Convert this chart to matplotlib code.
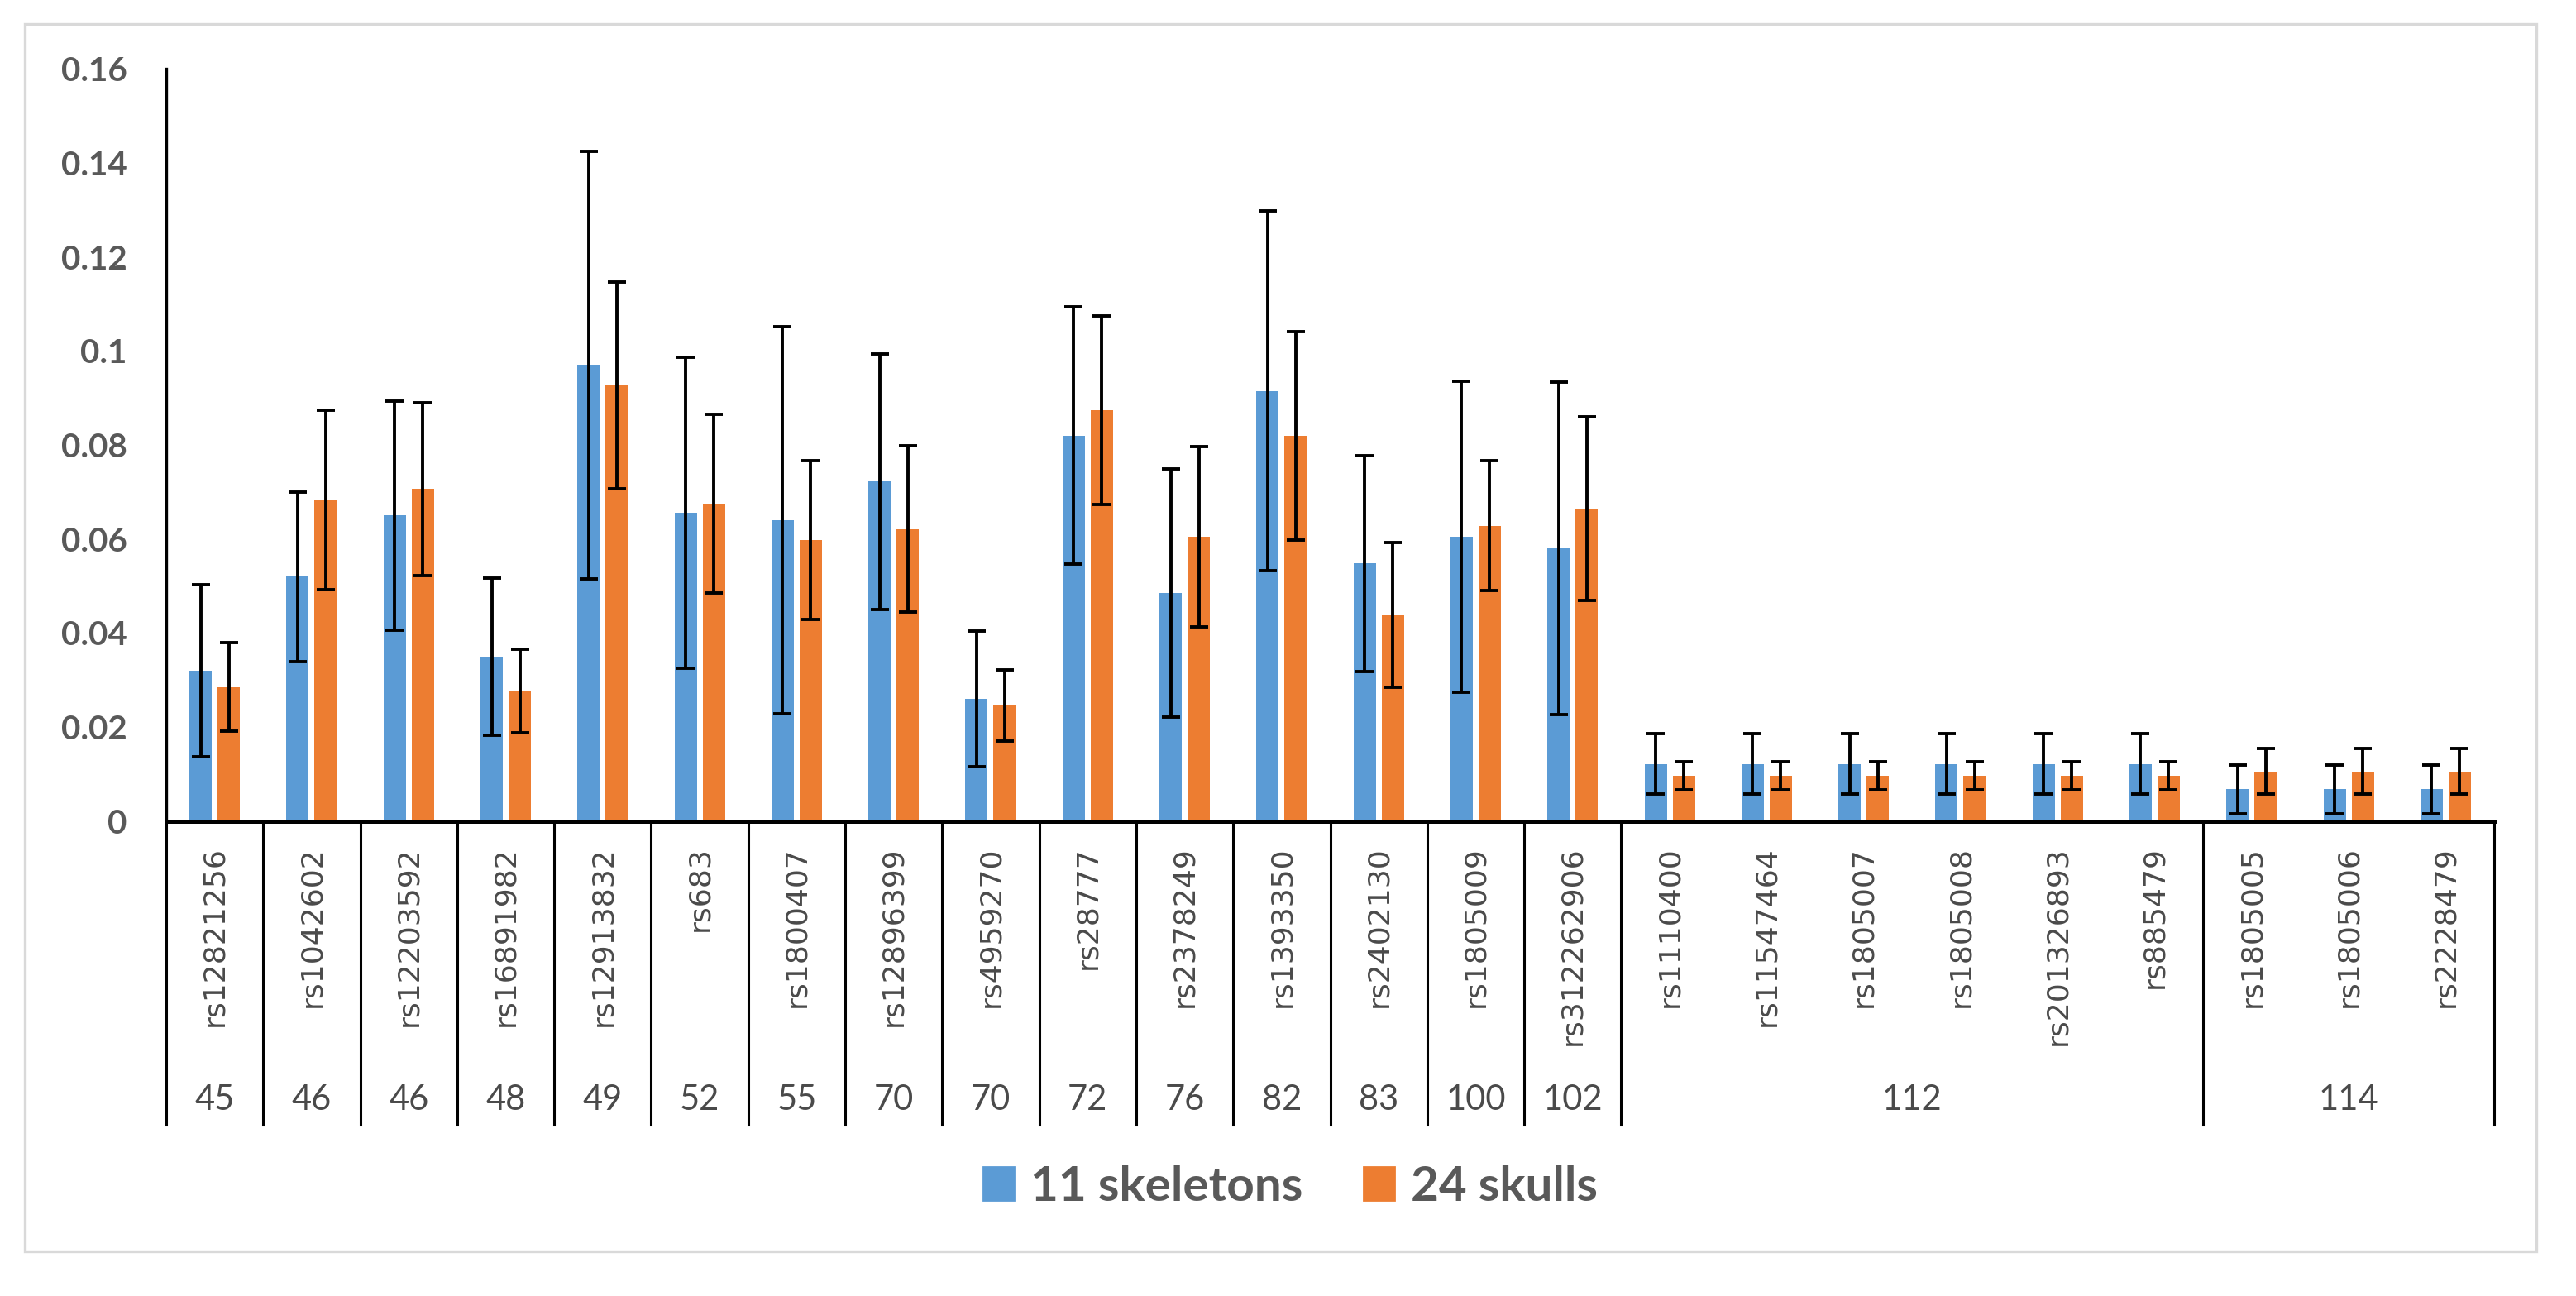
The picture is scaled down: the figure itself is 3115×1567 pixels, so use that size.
import numpy as np
import matplotlib
matplotlib.use("Agg")
import matplotlib.pyplot as plt
import matplotlib.transforms as mtransforms
from matplotlib.patches import Rectangle, Patch

snps = ["rs12821256", "rs1042602", "rs12203592", "rs16891982", "rs12913832",
        "rs683", "rs1800407", "rs12896399", "rs4959270", "rs28777",
        "rs2378249", "rs1393350", "rs2402130", "rs1805009", "rs312262906",
        "rs1110400", "rs11547464", "rs1805007", "rs1805008", "rs201326893",
        "rs885479", "rs1805005", "rs1805006", "rs2228479"]
groups = ["45", "46", "46", "48", "49", "52", "55", "70", "70", "72", "76",
          "82", "83", "100", "102", "112", "112", "112", "112", "112", "112",
          "114", "114", "114"]

skel = [0.032, 0.052, 0.065, 0.035, 0.097, 0.0656, 0.064, 0.0722, 0.026, 0.082,
        0.0485, 0.0915, 0.0548, 0.0605, 0.058, 0.0122, 0.0122, 0.0122, 0.0122,
        0.0122, 0.0122, 0.0068, 0.0068, 0.0068]
skel_err = [0.0183, 0.018, 0.0244, 0.0167, 0.0454, 0.033, 0.0412, 0.0272, 0.0144,
            0.0274, 0.0264, 0.0382, 0.023, 0.0331, 0.0353, 0.0064, 0.0064, 0.0064,
            0.0064, 0.0064, 0.0064, 0.0052, 0.0052, 0.0052]
skull = [0.0285, 0.0683, 0.0706, 0.0277, 0.0927, 0.0675, 0.0598, 0.0621, 0.0246,
         0.0874, 0.0605, 0.0819, 0.0438, 0.0628, 0.0664, 0.0097, 0.0097, 0.0097,
         0.0097, 0.0097, 0.0097, 0.0106, 0.0106, 0.0106]
skull_err = [0.0094, 0.019, 0.0183, 0.0088, 0.022, 0.019, 0.0169, 0.0177, 0.0075,
             0.02, 0.0192, 0.0222, 0.0154, 0.0138, 0.0195, 0.003, 0.003, 0.003,
             0.003, 0.003, 0.003, 0.0048, 0.0048, 0.0048]

blue = "#5B9BD5"
orange = "#ED7D31"
grey = "#595959"

W, H = 3115, 1567
fig = plt.figure(figsize=(W / 200, H / 200), dpi=200)
ax = fig.add_axes([201 / W, 1 - 993 / H, (3016 - 201) / W, (993 - 83) / H])

x = np.arange(len(snps))
width = 0.23
off = 0.145
ekw = dict(ecolor="black", elinewidth=1.4, capsize=3.8, capthick=1.4)
ax.bar(x - off, skel, width, color=blue, yerr=skel_err, error_kw=ekw, label="11 skeletons")
ax.bar(x + off, skull, width, color=orange, yerr=skull_err, error_kw=ekw, label="24 skulls")

ax.set_xlim(-0.5, len(snps) - 0.5)
ax.set_ylim(0, 0.16)
yt = np.arange(0, 0.161, 0.02)
ax.set_yticks(yt)
ax.set_yticklabels([f"{v:g}" for v in np.round(yt, 2)], fontsize=14.5,
                   color=grey, fontfamily="Lato", fontweight="bold")
ax.tick_params(axis="y", length=0, pad=17)
ax.set_xticks([])
for s in ["top", "right"]:
    ax.spines[s].set_visible(False)
ax.spines["left"].set_linewidth(1.2)
ax.spines["bottom"].set_linewidth(1.8)

# multi-level category axis
trans = mtransforms.blended_transform_factory(ax.transData, ax.transAxes)
bottom = -(1360 - 993) / (993 - 83)
bounds = [-0.5]
for i in range(1, len(snps)):
    if groups[i] != groups[i - 1] or i <= 15:
        bounds.append(i - 0.5)
bounds.append(len(snps) - 0.5)
for b in bounds:
    ax.plot([b, b], [0, bottom], color="black", lw=1.1, transform=trans, clip_on=False)

for i, name in enumerate(snps):
    ax.text(i, -0.033, name, rotation=90, ha="center", va="top", fontsize=13,
            color="#4a4a4a", fontfamily="DejaVu Sans", transform=trans)

start = 0
for i in range(1, len(snps) + 1):
    if i == len(snps) or groups[i] != groups[start] or i <= 15:
        ax.text((start + i - 1) / 2, -(1330 - 993) / (993 - 83), groups[start],
                ha="center", va="center", fontsize=15, color="#4a4a4a",
                fontfamily="Lato", transform=trans)
        start = i

handles = [Patch(color=blue), Patch(color=orange)]
fig.legend(handles, ["11 skeletons", "24 skulls"], loc="center",
           bbox_to_anchor=(0.501, 1 - 1435 / H), ncol=2, frameon=False,
           prop={"family": "Lato", "weight": "bold", "size": 21},
           labelcolor=grey, handlelength=0.63, handleheight=0.67,
           handletextpad=0.35, columnspacing=1.25)

fig.patches.append(Rectangle((30 / W, 1 - 1513 / H), (3067 - 30) / W, (1513 - 29) / H,
                             transform=fig.transFigure, fill=False,
                             edgecolor="#d9d9d9", lw=1.2))

fig.savefig("out.png", dpi=200, facecolor="white")
